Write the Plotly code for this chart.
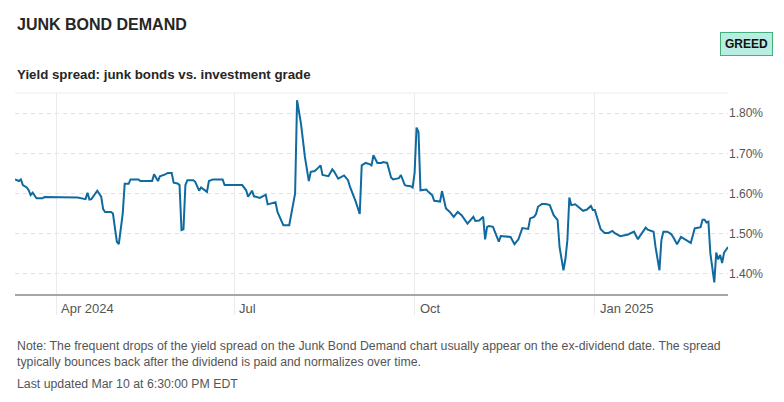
import plotly.graph_objects as go

dates = [
    "2024-03-11", "2024-03-13", "2024-03-14", "2024-03-15", "2024-03-17", "2024-03-18", "2024-03-19",
    "2024-03-20", "2024-03-22", "2024-03-25", "2024-03-26", "2024-04-12", "2024-04-16", "2024-04-17",
    "2024-04-18", "2024-04-19", "2024-04-22", "2024-04-24", "2024-04-25", "2024-04-26", "2024-04-29",
    "2024-04-30", "2024-05-02", "2024-05-03", "2024-05-05", "2024-05-06", "2024-05-08", "2024-05-09",
    "2024-05-13", "2024-05-14", "2024-05-20", "2024-05-21", "2024-05-23", "2024-05-24", "2024-05-27",
    "2024-05-28", "2024-05-30", "2024-05-31", "2024-06-02", "2024-06-03", "2024-06-04", "2024-06-05",
    "2024-06-06", "2024-06-07", "2024-06-10", "2024-06-11", "2024-06-13", "2024-06-14", "2024-06-17",
    "2024-06-18", "2024-06-20", "2024-06-25", "2024-06-26", "2024-07-05", "2024-07-07", "2024-07-08",
    "2024-07-10", "2024-07-11", "2024-07-14", "2024-07-17", "2024-07-18", "2024-07-20", "2024-07-22",
    "2024-07-23", "2024-07-26", "2024-07-29", "2024-07-30", "2024-08-01", "2024-08-02", "2024-08-04",
    "2024-08-06", "2024-08-08", "2024-08-09", "2024-08-11", "2024-08-12", "2024-08-14", "2024-08-15",
    "2024-08-18", "2024-08-20", "2024-08-21", "2024-08-23", "2024-08-25", "2024-08-26", "2024-08-28",
    "2024-08-29", "2024-09-01", "2024-09-03", "2024-09-04", "2024-09-06", "2024-09-08", "2024-09-09",
    "2024-09-10", "2024-09-12", "2024-09-14", "2024-09-15", "2024-09-17", "2024-09-19", "2024-09-20",
    "2024-09-23", "2024-09-24", "2024-09-26", "2024-09-27", "2024-09-29", "2024-09-30", "2024-10-01",
    "2024-10-02", "2024-10-03", "2024-10-04", "2024-10-06", "2024-10-07", "2024-10-08", "2024-10-09",
    "2024-10-10", "2024-10-11", "2024-10-13", "2024-10-14", "2024-10-15", "2024-10-17", "2024-10-19",
    "2024-10-21", "2024-10-23", "2024-10-25", "2024-10-28", "2024-10-31", "2024-11-01", "2024-11-03",
    "2024-11-05", "2024-11-06", "2024-11-07", "2024-11-08", "2024-11-10", "2024-11-13", "2024-11-14",
    "2024-11-17", "2024-11-19", "2024-11-21", "2024-11-23", "2024-11-25", "2024-11-28", "2024-11-29",
    "2024-12-01", "2024-12-02", "2024-12-03", "2024-12-05", "2024-12-07", "2024-12-09", "2024-12-11",
    "2024-12-13", "2024-12-14", "2024-12-16", "2024-12-17", "2024-12-18", "2024-12-19", "2024-12-20",
    "2024-12-22", "2024-12-26", "2024-12-28", "2024-12-30", "2024-12-31", "2025-01-01", "2025-01-03",
    "2025-01-04", "2025-01-06", "2025-01-08", "2025-01-10", "2025-01-11", "2025-01-14", "2025-01-16",
    "2025-01-18", "2025-01-21", "2025-01-23", "2025-01-24", "2025-01-27", "2025-01-28", "2025-01-31",
    "2025-02-01", "2025-02-03", "2025-02-04", "2025-02-05", "2025-02-07", "2025-02-09", "2025-02-10",
    "2025-02-12", "2025-02-14", "2025-02-17", "2025-02-19", "2025-02-21", "2025-02-23", "2025-02-24",
    "2025-02-25", "2025-02-26", "2025-02-27", "2025-02-28", "2025-03-01", "2025-03-03", "2025-03-04",
    "2025-03-05", "2025-03-06", "2025-03-07", "2025-03-08", "2025-03-10",
]

spread = [
    1.635, 1.631, 1.635, 1.621, 1.615, 1.608, 1.596,
    1.602, 1.588, 1.588, 1.591, 1.590, 1.586, 1.602,
    1.585, 1.586, 1.607, 1.592, 1.561, 1.554, 1.554,
    1.550, 1.480, 1.474, 1.550, 1.624, 1.624, 1.635,
    1.635, 1.631, 1.631, 1.648, 1.631, 1.643, 1.648,
    1.651, 1.651, 1.627, 1.625, 1.621, 1.509, 1.511,
    1.621, 1.633, 1.633, 1.629, 1.607, 1.615, 1.604,
    1.631, 1.635, 1.635, 1.621, 1.621, 1.608, 1.592,
    1.607, 1.593, 1.589, 1.597, 1.573, 1.575, 1.578,
    1.554, 1.521, 1.521, 1.550, 1.600, 1.832, 1.774,
    1.691, 1.631, 1.654, 1.656, 1.660, 1.670, 1.646,
    1.643, 1.660, 1.654, 1.637, 1.643, 1.645, 1.633,
    1.617, 1.579, 1.549, 1.670, 1.676, 1.673, 1.670,
    1.695, 1.676, 1.676, 1.678, 1.676, 1.640, 1.635,
    1.638, 1.646, 1.621, 1.619, 1.618, 1.615, 1.651,
    1.764, 1.753, 1.608, 1.610, 1.610, 1.604, 1.600,
    1.596, 1.582, 1.580, 1.580, 1.606, 1.563, 1.554,
    1.542, 1.554, 1.546, 1.525, 1.542, 1.532, 1.533,
    1.542, 1.486, 1.517, 1.519, 1.517, 1.480, 1.494,
    1.492, 1.492, 1.474, 1.486, 1.514, 1.512, 1.538,
    1.542, 1.549, 1.567, 1.574, 1.574, 1.571, 1.546,
    1.534, 1.467, 1.409, 1.437, 1.484, 1.590, 1.571,
    1.573, 1.557, 1.560, 1.569, 1.559, 1.559, 1.525,
    1.511, 1.502, 1.502, 1.507, 1.502, 1.494, 1.496,
    1.498, 1.505, 1.486, 1.494, 1.515, 1.510, 1.505,
    1.467, 1.409, 1.484, 1.505, 1.505, 1.499, 1.492,
    1.474, 1.492, 1.484, 1.477, 1.513, 1.515, 1.516,
    1.535, 1.535, 1.528, 1.530, 1.451, 1.379, 1.453,
    1.436, 1.447, 1.427, 1.453, 1.467,
]

x_tick_dates = ["2024-04-01", "2024-07-01", "2024-10-01", "2025-01-01"]
x_tick_labels = ["Apr 2024", "Jul", "Oct", "Jan 2025"]
y_tick_vals = [1.40, 1.50, 1.60, 1.70, 1.80]
y_tick_labels = ["1.40%", "1.50%", "1.60%", "1.70%", "1.80%"]

title_text = "JUNK BOND DEMAND"
subtitle_text = "Yield spread: junk bonds vs. investment grade"
badge_text = "GREED"
note_text = ("Note: The frequent drops of the yield spread on the Junk Bond Demand chart usually appear on the "
             "ex-dividend date. The spread<br>typically bounces back after the dividend is paid and normalizes over time.")
updated_text = "Last updated Mar 10 at 6:30:00 PM EDT"

LINE = "#0f6aa0"
SANS = "Liberation Sans, Arial, sans-serif"

fig = go.Figure()
fig.add_trace(go.Scatter(
    x=dates, y=spread, mode="lines",
    line=dict(color=LINE, width=2), hoverinfo="x+y", showlegend=False,
))

fig.update_layout(
    width=784, height=402,
    margin=dict(l=15, r=56, t=93, b=108),
    paper_bgcolor="white", plot_bgcolor="white",
    font=dict(family=SANS, color="#555555", size=12),
    xaxis=dict(
        type="date", range=["2024-03-11", "2025-03-10"],
        tickvals=x_tick_dates, showticklabels=False,
        showgrid=True, gridcolor="#ebebeb", gridwidth=1,
        ticks="outside", ticklen=19, tickcolor="#ebebeb", tickwidth=1,
        showline=True, linecolor="#a6a6a6", linewidth=2,
        zeroline=False,
    ),
    yaxis=dict(
        range=[1.35, 1.85], side="right",
        tickvals=y_tick_vals, ticktext=y_tick_labels,
        tickfont=dict(family=SANS, size=12, color="#555555"),
        showgrid=True, gridcolor="#e3e3e3", griddash="4px,4px", gridwidth=1,
        ticks="", showline=False, zeroline=False,
    ),
)

# light top border of the plot area
fig.add_shape(type="line", xref="paper", yref="paper", x0=0, x1=1, y0=1, y1=1,
              line=dict(color="#ececec", width=1))

# x tick labels, left-aligned just right of each tick
for d, lab in zip(x_tick_dates, x_tick_labels):
    fig.add_annotation(x=d, xref="x", y=-0.0746, yref="paper", text=lab, showarrow=False,
                       xanchor="left", yanchor="middle", xshift=3,
                       font=dict(family=SANS, size=13, color="#555555"))

fig.add_annotation(x=0, xref="paper", y=1.3408, yref="paper", text="<b>" + title_text + "</b>",
                   showarrow=False, xanchor="left", yanchor="middle", xshift=0,
                   font=dict(family=SANS, size=16, color="#262626"))
fig.add_annotation(x=0, xref="paper", y=1.0896, yref="paper", text="<b>" + subtitle_text + "</b>",
                   showarrow=False, xanchor="left", yanchor="middle", xshift=0,
                   font=dict(family=SANS, size=13.3, color="#262626"))
fig.add_annotation(x=1.0631, xref="paper", y=1.2438, yref="paper", text="<b>" + badge_text + "</b>",
                   showarrow=False, xanchor="right", yanchor="middle",
                   bgcolor="#b8ede2", bordercolor="#45b07c", borderwidth=1, borderpad=4,
                   font=dict(family=SANS, size=12, color="#111111"))
fig.add_annotation(x=0, xref="paper", y=-0.2985, yref="paper", text=note_text,
                   showarrow=False, xanchor="left", yanchor="middle", align="left",
                   font=dict(family=SANS, size=12.3, color="#555555"))
fig.add_annotation(x=0, xref="paper", y=-0.4478, yref="paper", text=updated_text,
                   showarrow=False, xanchor="left", yanchor="middle", align="left",
                   font=dict(family=SANS, size=12.3, color="#555555"))

fig.write_html("out.html")
